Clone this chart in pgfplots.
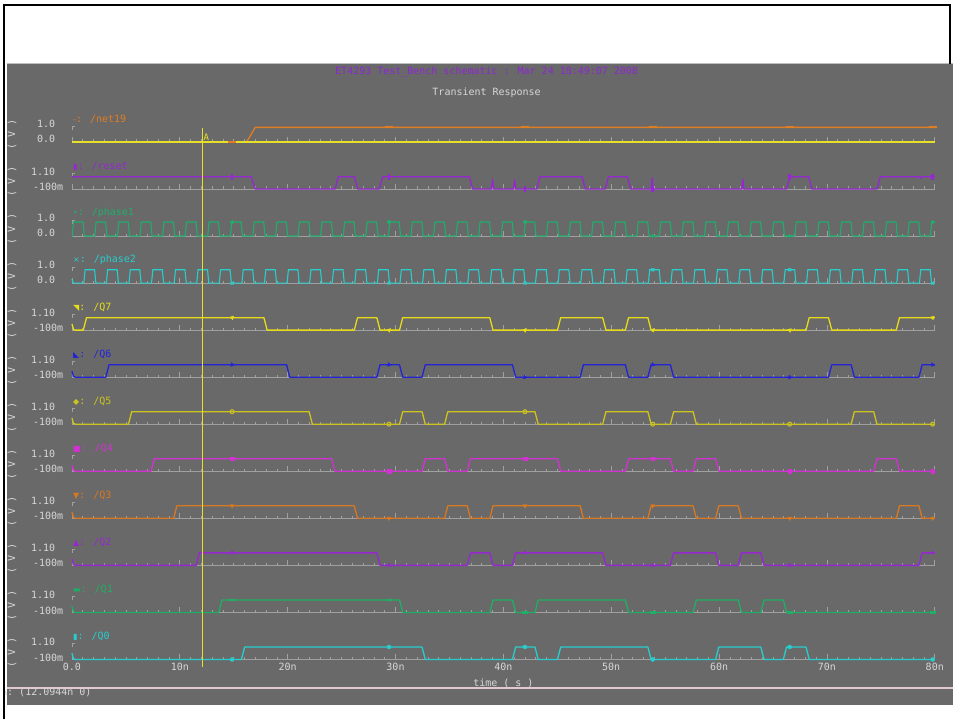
\documentclass[border=0pt]{standalone}
\usepackage{pgfplots}
\pgfplotsset{compat=1.18}
\usepackage{fontspec}
\setmainfont{DejaVu Sans Mono}
\newfontfamily\symf{DejaVu Sans}
\newcommand\lbl{\fontsize{10}{12}\selectfont}
\definecolor{bg}{RGB}{105,105,105}
\definecolor{labgray}{RGB}{215,215,215}
\definecolor{axgray}{RGB}{160,160,160}
\definecolor{toplight}{RGB}{190,190,190}
\definecolor{pinkline}{RGB}{225,200,210}
\definecolor{titlepurple}{RGB}{140,40,210}
\definecolor{cnet}{RGB}{225,125,35}
\definecolor{creset}{RGB}{150,40,210}
\definecolor{cph1}{RGB}{30,175,110}
\definecolor{cph2}{RGB}{40,205,205}
\definecolor{cq7}{RGB}{230,220,25}
\definecolor{cq6}{RGB}{35,35,215}
\definecolor{cq5}{RGB}{205,195,30}
\definecolor{cq4}{RGB}{210,50,210}
\definecolor{cq3}{RGB}{215,120,35}
\definecolor{cq2}{RGB}{150,40,210}
\definecolor{cq1}{RGB}{30,175,100}
\definecolor{cq0}{RGB}{40,205,205}
\definecolor{cursor}{RGB}{230,225,40}
\pgfplotsset{row/.style 2 args={y filter/.expression={y*#1-#2}},
  tr/.style={line width=1.3pt, line join=round}}
\begin{document}
\begin{tikzpicture}[x=1pt,y=1pt]
% page and window
\fill[white] (-72,-60) rectangle (882,660);
\fill[bg] (-65,-46) rectangle (882,596);
\draw[toplight, line width=1pt] (-65,596) -- (882,596);
\draw[pinkline, line width=1.5pt] (-65,-28.5) -- (882,-28.5);
\node[anchor=west, inner sep=0pt, text=labgray, font=\lbl] at (-71,-33) {A: (12.0944n 0)};
\fill[white] (-72,-60) rectangle (-68.5,660);
\draw[black, line width=2pt] (-67.5,-60) -- (-67.5,655) -- (879,655) -- (879,596);
\node[text=titlepurple, font=\lbl, inner sep=0pt] at (415,588) {ET4293 Test\_Bench schematic : Mar 24 18:49:07 2008};
\node[text=labgray, font=\lbl, inner sep=0pt] at (415,567) {Transient Response};
% strip baselines and labels
\foreach \B/\name/\col/\sym in {142/net19/cnet/-,236.2/phase1/cph1/•,283.3/phase2/cph2/×}{
  \pgfmathsetmacro\yb{660-\B}
  \draw[axgray, line width=0.8pt] (0,\yb) -- (863.5,\yb);
  \foreach \t in {1,...,79} \draw[axgray, line width=0.6pt] ({\t*10.79375},\yb) -- ++(0,2.5);
  \foreach \t in {0,10,...,80} \draw[axgray, line width=0.6pt] ({\t*10.79375},\yb) -- ++(0,5);
  \draw[axgray, line width=0.7pt] (0,{\yb+12}) -- (0,{\yb+16}) -- (3,{\yb+16});
  \node[anchor=east, text=labgray, font=\lbl, inner sep=0pt] at (-16.5,{\yb+18}) {1.0};
  \node[anchor=east, text=labgray, font=\lbl, inner sep=0pt] at (-16.5,{\yb+3}) {0.0};
  \node[rotate=90, text=labgray, font=\lbl, inner sep=0pt] at (-60,{\yb+7}) {( V )};
  \node[anchor=west, text=\col, font=\lbl, inner sep=0pt] at (1,{\yb+23}) {{\symf\footnotesize\sym}: /\name};
}
\foreach \B/\name/\col/\sym in {189.1/reset/creset/▮,330.4/Q7/cq7/◥,377.5/Q6/cq6/◣,424.5/Q5/cq5/◆,471.6/Q4/cq4/■,518.7/Q3/cq3/▼,565.8/Q2/cq2/▲,612.9/Q1/cq1/▬,660/Q0/cq0/▮}{
  \pgfmathsetmacro\yb{660-\B}
  \draw[axgray, line width=0.8pt] (0,\yb) -- (863.5,\yb);
  \foreach \t in {1,...,79} \draw[axgray, line width=0.6pt] ({\t*10.79375},\yb) -- ++(0,2.5);
  \foreach \t in {0,10,...,80} \draw[axgray, line width=0.6pt] ({\t*10.79375},\yb) -- ++(0,5);
  \draw[axgray, line width=0.7pt] (0,{\yb+12}) -- (0,{\yb+16}) -- (3,{\yb+16});
  \node[anchor=east, text=labgray, font=\lbl, inner sep=0pt] at (-16.5,{\yb+17.5}) {1.10};
  \node[anchor=east, text=labgray, font=\lbl, inner sep=0pt] at (-8.5,{\yb+2}) {-100m};
  \node[rotate=90, text=labgray, font=\lbl, inner sep=0pt] at (-60,{\yb+7}) {( V )};
  \node[anchor=west, text=\col, font=\lbl, inner sep=0pt] at (1,{\yb+23}) {{\symf\footnotesize\sym}: /\name};
}
\begin{axis}[at={(0,0)}, anchor=south west, scale only axis,
  width=863.5pt, height=550pt, xmin=0, xmax=80, ymin=-660, ymax=-110,
  clip=false, axis line style={draw=none}, ytick=\empty,
  xtick={0,10,...,80}, xticklabels={0.0,10n,20n,30n,40n,50n,60n,70n,80n},
  major tick length=0pt, tick style={draw=none},
  xticklabel style={text=labgray, font=\lbl},
  xlabel={time ( s )}, xlabel style={text=labgray, font=\lbl, inner sep=1pt, yshift=-4pt}]
% net19
\addplot[cnet, tr, row={14.5}{142}] coordinates {(0,0)(16.2,0)(17.0,1)(80,1)};
\addplot[cursor, line width=2pt, row={14.5}{142}] coordinates {(0,0)(80,0)};
\addplot[cnet, only marks, mark=-, mark size=4pt, line width=2.2pt, row={14.5}{142}] coordinates {(14.85,0)(29.4,1)(42.0,1)(53.85,1)(66.55,1)(79.8,1)};
% reset
\addplot[creset, tr, row={12.3}{189.1}] coordinates {(0,1)(16.6,1)(17.0,0)(24.4,0)(24.7,1)(26.2,1)(26.5,0)(28.5,0)(28.8,1)(36.85,1)(37.15,0)(38.9,0)(39.0,0.8)(39.1,0)(40.95,0)(41.05,0.75)(41.15,0)(43.1,0)(43.4,1)(47.3,1)(47.6,0)(49.45,0)(49.75,1)(51.5,1)(51.8,0)(53.7,0)(53.8,0.9)(53.9,-0.1)(54.0,0)(62.1,0)(62.2,0.8)(62.3,0)(66.25,0)(66.55,1)(68.3,1)(68.6,0)(74.65,0)(74.95,1)(78.6,1)(78.7,0.85)(78.8,1)(80,1)};
\addplot[creset, only marks, mark=|, mark size=3pt, line width=2.5pt, row={12.3}{189.1}] coordinates {(14.85,1)(29.4,1)(42.0,0)(53.85,0)(66.55,1)(79.8,1)};
% phase1
\addplot[cph1, line width=1.1pt, row={14}{236.2}] coordinates {(0,0)(0.03,0)(0.15,1)(1.03,1)(1.15,0)
(2.12,0)(2.24,1)(3.12,1)(3.24,0)(4.22,0)(4.34,1)(5.22,1)(5.34,0)(6.31,0)(6.43,1)(7.31,1)(7.43,0)
(8.41,0)(8.53,1)(9.41,1)(9.53,0)(10.50,0)(10.62,1)(11.50,1)(11.62,0)(12.59,0)(12.71,1)(13.59,1)(13.71,0)
(14.69,0)(14.81,1)(15.69,1)(15.81,0)(16.78,0)(16.90,1)(17.78,1)(17.90,0)(18.88,0)(19.00,1)(19.88,1)(20.00,0)
(20.97,0)(21.09,1)(21.97,1)(22.09,0)(23.06,0)(23.18,1)(24.06,1)(24.18,0)(25.16,0)(25.28,1)(26.16,1)(26.28,0)
(27.25,0)(27.37,1)(28.25,1)(28.37,0)(29.35,0)(29.47,1)(30.35,1)(30.47,0)(31.44,0)(31.56,1)(32.44,1)(32.56,0)
(33.53,0)(33.65,1)(34.53,1)(34.65,0)(35.63,0)(35.75,1)(36.63,1)(36.75,0)(37.72,0)(37.84,1)(38.72,1)(38.84,0)
(39.82,0)(39.94,1)(40.82,1)(40.94,0)(41.91,0)(42.03,1)(42.91,1)(43.03,0)(44.00,0)(44.12,1)(45.00,1)(45.12,0)
(46.10,0)(46.22,1)(47.10,1)(47.22,0)(48.19,0)(48.31,1)(49.19,1)(49.31,0)(50.29,0)(50.41,1)(51.29,1)(51.41,0)
(52.38,0)(52.50,1)(53.38,1)(53.50,0)(54.47,0)(54.59,1)(55.47,1)(55.59,0)(56.57,0)(56.69,1)(57.57,1)(57.69,0)
(58.66,0)(58.78,1)(59.66,1)(59.78,0)(60.76,0)(60.88,1)(61.76,1)(61.88,0)(62.85,0)(62.97,1)(63.85,1)(63.97,0)
(64.94,0)(65.06,1)(65.94,1)(66.06,0)(67.04,0)(67.16,1)(68.04,1)(68.16,0)(69.13,0)(69.25,1)(70.13,1)(70.25,0)
(71.23,0)(71.35,1)(72.23,1)(72.35,0)(73.32,0)(73.44,1)(74.32,1)(74.44,0)(75.41,0)(75.53,1)(76.41,1)(76.53,0)
(77.51,0)(77.63,1)(78.51,1)(78.63,0)(79.60,0)(79.72,1)(80,1)};
\addplot[cph1, only marks, mark=+, mark size=2pt, line width=1.2pt, row={14}{236.2}] coordinates {(14.85,1)(29.4,1)(42.0,1)(53.85,0)(66.55,0)(79.8,1)};
% phase2
\addplot[cph2, line width=1.1pt, row={13.3}{283.3}] coordinates {(0,0.3)(0.12,0)(1.10,0)(1.22,1)(2.10,1)(2.22,0)
(3.19,0)(3.31,1)(4.19,1)(4.31,0)(5.29,0)(5.41,1)(6.29,1)(6.41,0)(7.38,0)(7.50,1)(8.38,1)(8.50,0)
(9.48,0)(9.60,1)(10.48,1)(10.60,0)(11.57,0)(11.69,1)(12.57,1)(12.69,0)(13.66,0)(13.78,1)(14.66,1)(14.78,0)
(15.76,0)(15.88,1)(16.76,1)(16.88,0)(17.85,0)(17.97,1)(18.85,1)(18.97,0)(19.95,0)(20.07,1)(20.95,1)(21.07,0)
(22.04,0)(22.16,1)(23.04,1)(23.16,0)(24.13,0)(24.25,1)(25.13,1)(25.25,0)(26.23,0)(26.35,1)(27.23,1)(27.35,0)
(28.32,0)(28.44,1)(29.32,1)(29.44,0)(30.42,0)(30.54,1)(31.42,1)(31.54,0)(32.51,0)(32.63,1)(33.51,1)(33.63,0)
(34.60,0)(34.72,1)(35.60,1)(35.72,0)(36.70,0)(36.82,1)(37.70,1)(37.82,0)(38.79,0)(38.91,1)(39.79,1)(39.91,0)
(40.89,0)(41.01,1)(41.89,1)(42.01,0)(42.98,0)(43.10,1)(43.98,1)(44.10,0)(45.07,0)(45.19,1)(46.07,1)(46.19,0)
(47.17,0)(47.29,1)(48.17,1)(48.29,0)(49.26,0)(49.38,1)(50.26,1)(50.38,0)(51.36,0)(51.48,1)(52.36,1)(52.48,0)
(53.45,0)(53.57,1)(54.45,1)(54.57,0)(55.54,0)(55.66,1)(56.54,1)(56.66,0)(57.64,0)(57.76,1)(58.64,1)(58.76,0)
(59.73,0)(59.85,1)(60.73,1)(60.85,0)(61.83,0)(61.95,1)(62.83,1)(62.95,0)(63.92,0)(64.04,1)(64.92,1)(65.04,0)
(66.01,0)(66.13,1)(67.01,1)(67.13,0)(68.11,0)(68.23,1)(69.11,1)(69.23,0)(70.20,0)(70.32,1)(71.20,1)(71.32,0)
(72.30,0)(72.42,1)(73.30,1)(73.42,0)(74.39,0)(74.51,1)(75.39,1)(75.51,0)(76.48,0)(76.60,1)(77.48,1)(77.60,0)
(78.58,0)(78.70,1)(79.58,1)(79.70,0)(80,0)};
\addplot[cph2, only marks, mark=x, mark size=2pt, line width=1.2pt, row={13.3}{283.3}] coordinates {(14.85,0)(29.4,0)(42.0,0)(53.85,1)(66.55,1)(79.8,0)};
% Q7
\addplot[cq7, tr, row={12.5}{330.4}] coordinates {(0,0.5)(0.15,0.05)(0.35,0)(1.05,0)(1.35,1)(17.80,1)(18.10,0)(26.18,0)(26.48,1)(28.27,1)(28.57,0)(30.37,0)(30.67,1)(38.74,1)(39.04,0)(45.02,0)(45.32,1)(49.21,1)(49.51,0)(51.31,0)(51.61,1)(53.40,1)(53.70,0)(68.06,0)(68.36,1)(70.15,1)(70.45,0)(76.43,0)(76.73,1)(80,1)};
\addplot[cq7, only marks, mark=triangle*, mark size=2.2pt, mark options={rotate=-45}, row={12.5}{330.4}] coordinates {(14.85,1)(29.4,0)(42.0,0)(53.85,0)(66.55,0)(79.8,1)};
% Q6
\addplot[cq6, tr, row={12.5}{377.5}] coordinates {(0,0.5)(0.15,0.05)(0.35,0)(3.14,0)(3.44,1)(19.90,1)(20.20,0)(28.27,0)(28.57,1)(30.37,1)(30.67,0)(32.46,0)(32.76,1)(40.84,1)(41.14,0)(47.12,0)(47.42,1)(51.31,1)(51.61,0)(53.40,0)(53.70,1)(55.49,1)(55.79,0)(70.15,0)(70.45,1)(72.25,1)(72.55,0)(78.53,0)(78.83,1)(80,1)};
\addplot[cq6, only marks, mark=triangle*, mark size=2.2pt, mark options={rotate=135}, row={12.5}{377.5}] coordinates {(14.85,1)(29.4,1)(42.0,0)(53.85,1)(66.55,0)(79.8,1)};
% Q5
\addplot[cq5, tr, row={12.5}{424.5}] coordinates {(0,0.5)(0.15,0.05)(0.35,0)(5.24,0)(5.54,1)(21.99,1)(22.29,0)(30.37,0)(30.67,1)(32.46,1)(32.76,0)(34.55,0)(34.85,1)(42.93,1)(43.23,0)(49.21,0)(49.51,1)(53.40,1)(53.70,0)(55.49,0)(55.79,1)(57.59,1)(57.89,0)(72.25,0)(72.55,1)(74.34,1)(74.64,0)(80,0)};
\addplot[cq5, only marks, mark=o, mark size=2pt, line width=1pt, row={12.5}{424.5}] coordinates {(14.85,1)(29.4,0)(42.0,1)(53.85,0)(66.55,0)(79.8,0)};
% Q4
\addplot[cq4, tr, row={12.5}{471.6}] coordinates {(0,0.5)(0.15,0.05)(0.35,0)(7.33,0)(7.63,1)(24.08,1)(24.38,0)(32.46,0)(32.76,1)(34.55,1)(34.85,0)(36.65,0)(36.95,1)(45.02,1)(45.32,0)(51.31,0)(51.61,1)(55.49,1)(55.79,0)(57.59,0)(57.89,1)(59.68,1)(59.98,0)(74.34,0)(74.64,1)(76.43,1)(76.73,0)(80,0)};
\addplot[cq4, only marks, mark=square*, mark size=1.8pt, row={12.5}{471.6}] coordinates {(14.85,1)(29.4,0)(42.0,1)(53.85,1)(66.55,0)(79.8,0)};
% Q3
\addplot[cq3, tr, row={12.5}{518.7}] coordinates {(0,0.5)(0.15,0.05)(0.35,0)(9.43,0)(9.73,1)(26.18,1)(26.48,0)(34.55,0)(34.85,1)(36.65,1)(36.95,0)(38.74,0)(39.04,1)(47.12,1)(47.42,0)(53.40,0)(53.70,1)(57.59,1)(57.89,0)(59.68,0)(59.98,1)(61.78,1)(62.08,0)(76.43,0)(76.73,1)(78.53,1)(78.83,0)(80,0)};
\addplot[cq3, only marks, mark=triangle*, mark size=2.2pt, mark options={rotate=180}, row={12.5}{518.7}] coordinates {(14.85,1)(29.4,0)(42.0,1)(53.85,1)(66.55,0)(79.8,0)};
% Q2
\addplot[cq2, tr, row={12.5}{565.8}] coordinates {(0,0.5)(0.15,0.05)(0.35,0)(11.52,0)(11.82,1)(28.27,1)(28.57,0)(36.65,0)(36.95,1)(38.74,1)(39.04,0)(40.84,0)(41.14,1)(49.21,1)(49.51,0)(55.49,0)(55.79,1)(59.68,1)(59.98,0)(61.78,0)(62.08,1)(63.87,1)(64.17,0)(78.53,0)(78.83,1)(80,1)};
\addplot[cq2, only marks, mark=triangle*, mark size=2.2pt, row={12.5}{565.8}] coordinates {(14.85,1)(29.4,0)(42.0,1)(53.85,0)(66.55,0)(79.8,1)};
% Q1
\addplot[cq1, tr, row={12.5}{612.9}] coordinates {(0,0.5)(0.15,0.05)(0.35,0)(13.61,0)(13.91,1)(30.37,1)(30.67,0)(38.74,0)(39.04,1)(40.84,1)(41.14,0)(42.93,0)(43.23,1)(51.31,1)(51.61,0)(57.59,0)(57.89,1)(61.78,1)(62.08,0)(63.87,0)(64.17,1)(65.96,1)(66.26,0)(80,0)};
\addplot[cq1, only marks, mark=-, mark size=3pt, line width=2.5pt, row={12.5}{612.9}] coordinates {(14.85,1)(29.4,1)(42.0,0)(53.85,0)(66.55,0)(79.8,0)};
% Q0
\addplot[cq0, tr, row={12.5}{660}] coordinates {(0,0.5)(0.15,0.05)(0.35,0)(15.71,0)(16.01,1)(32.46,1)(32.76,0)(40.84,0)(41.14,1)(42.93,1)(43.23,0)(45.02,0)(45.32,1)(53.40,1)(53.70,0)(59.68,0)(59.98,1)(63.87,1)(64.17,0)(65.96,0)(66.26,1)(68.06,1)(68.36,0)(80,0)};
\addplot[cq0, only marks, mark=*, mark size=2pt, row={12.5}{660}] coordinates {(14.85,0)(29.4,1)(42.0,1)(53.85,0)(66.55,1)(79.8,0)};
\end{axis}
% marker A cursor
\draw[cursor, line width=1.3pt] (130.5,532) -- (130.5,-8);
\node[text=cursor, font=\fontsize{9}{10}\selectfont, inner sep=0pt] at (134.5,523) {A};
\end{tikzpicture}
\end{document}
